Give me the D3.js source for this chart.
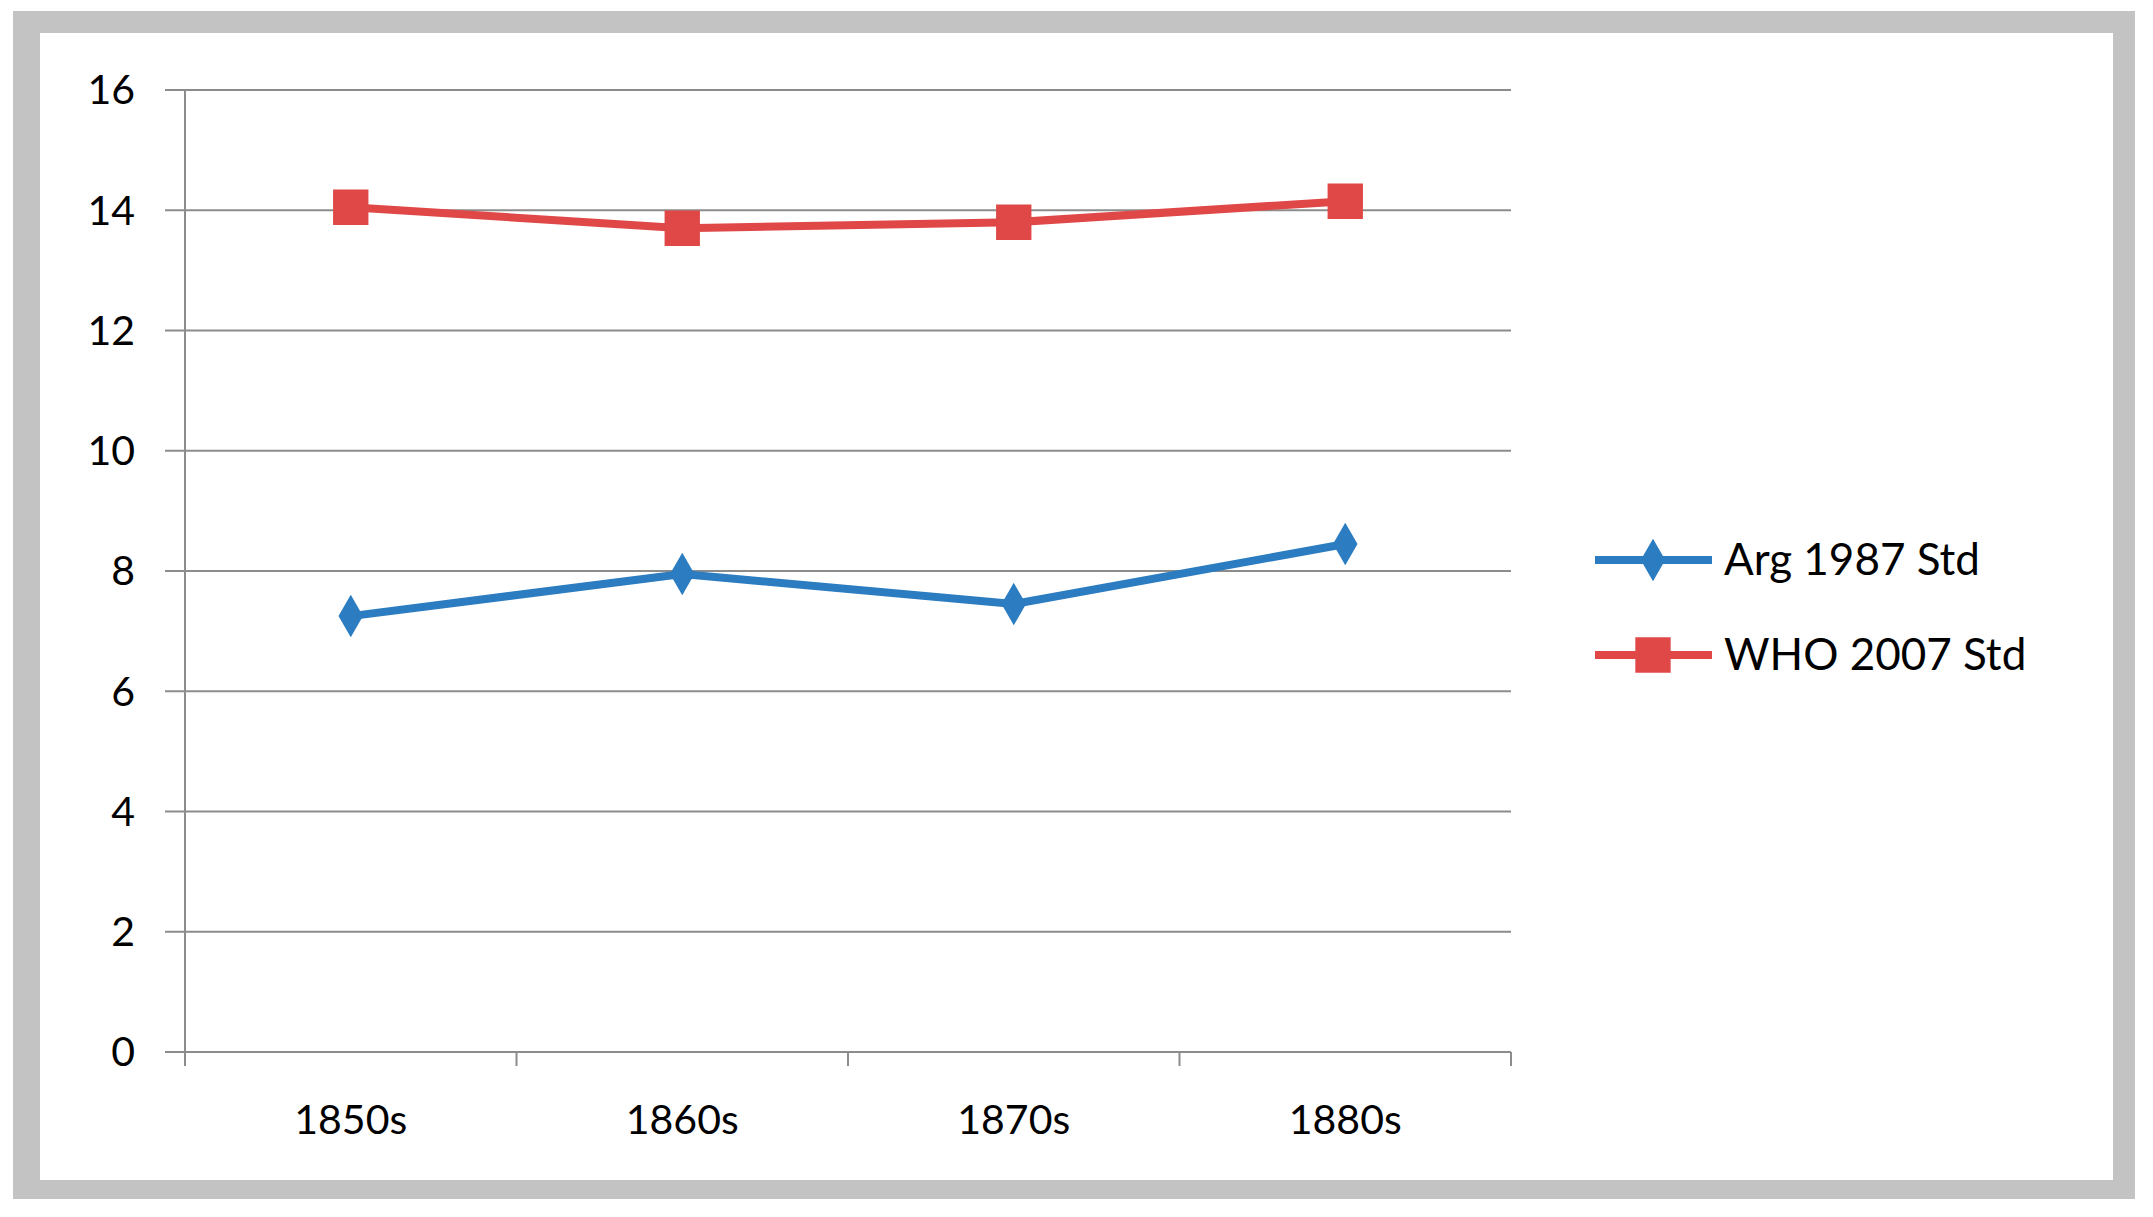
<!DOCTYPE html>
<html><head><meta charset="utf-8">
<script src="https://cdn.jsdelivr.net/npm/d3@7"></script>
<style>body{margin:0;background:#fff}svg{display:block}</style>
</head><body>
<svg id="chart" width="2153" height="1217"></svg>
<script>
var decades = ['1850s','1860s','1870s','1880s'];
var argValues = [7.25, 7.95, 7.45, 8.45];
var whoValues = [14.05, 13.7, 13.8, 14.15];
var yTicks = [0,2,4,6,8,10,12,14,16];
var seriesNames = ['Arg 1987 Std','WHO 2007 Std'];

var svg = d3.select('#chart');
var font = 'Lato, "Open Sans", sans-serif';

// frame
svg.append('rect').attr('x',13).attr('y',11).attr('width',2122).attr('height',1188).attr('fill','#c3c3c3');
svg.append('rect').attr('x',40).attr('y',33).attr('width',2073).attr('height',1147).attr('fill','#fff');

var pLeft=185,pRight=1511,pTop=90,pBottom=1052;
var x = d3.scaleBand().domain(decades).range([pLeft,pRight]);
var y = d3.scaleLinear().domain([0,16]).range([pBottom,pTop]);

var g = svg.append('g');
g.selectAll('.grid').data(yTicks).enter().append('line')
  .attr('x1',pLeft-20).attr('x2',pRight).attr('y1',d=>y(d)).attr('y2',d=>y(d))
  .attr('stroke','#8c8c8c').attr('stroke-width',2);
g.selectAll('.ylab').data(yTicks).enter().append('text')
  .attr('x',pLeft-50).attr('y',d=>y(d)).attr('dy','0.35em').attr('text-anchor','end')
  .attr('font-family',font).attr('font-size',41).text(d=>d);
g.append('line').attr('x1',pLeft).attr('x2',pLeft).attr('y1',pTop).attr('y2',pBottom+14).attr('stroke','#8c8c8c').attr('stroke-width',2);
var edges = decades.map(d=>x(d)+x.bandwidth());
g.selectAll('.xt').data(edges).enter().append('line')
  .attr('x1',d=>d).attr('x2',d=>d).attr('y1',pBottom).attr('y2',pBottom+14)
  .attr('stroke','#8c8c8c').attr('stroke-width',2);
g.selectAll('.xlab').data(decades).enter().append('text')
  .attr('x',d=>x(d)+x.bandwidth()/2).attr('y',pBottom+82).attr('text-anchor','middle')
  .attr('font-family',font).attr('font-size',41).text(d=>d);

var cx = d => x(d)+x.bandwidth()/2;
var series = [
  {name:seriesNames[0], values:argValues, color:'#2B7CC0', sym:d3.symbolDiamond, size:520},
  {name:seriesNames[1], values:whoValues, color:'#E04848', sym:d3.symbolSquare, size:1250}
];
var line = d3.line().x((v,i)=>cx(decades[i])).y(v=>y(v));
series.forEach(function(s,k){
  g.append('path').attr('d',line(s.values)).attr('fill','none').attr('stroke',s.color).attr('stroke-width',8);
  g.selectAll(null).data(s.values).enter().append('path')
    .attr('d',d3.symbol().type(s.sym).size(s.size))
    .attr('transform',(v,i)=>`translate(${cx(decades[i])},${y(v)})`).attr('fill',s.color);
  var ly = 560 + k*95;
  g.append('line').attr('x1',1595).attr('x2',1712).attr('y1',ly).attr('y2',ly).attr('stroke',s.color).attr('stroke-width',8);
  g.append('path').attr('d',d3.symbol().type(s.sym).size(s.size)).attr('transform',`translate(1653,${ly})`).attr('fill',s.color);
  g.append('text').attr('x',1724).attr('y',ly).attr('dy','0.35em').attr('font-family',font).attr('font-size',44).text(s.name);
});
</script>
</body></html>
